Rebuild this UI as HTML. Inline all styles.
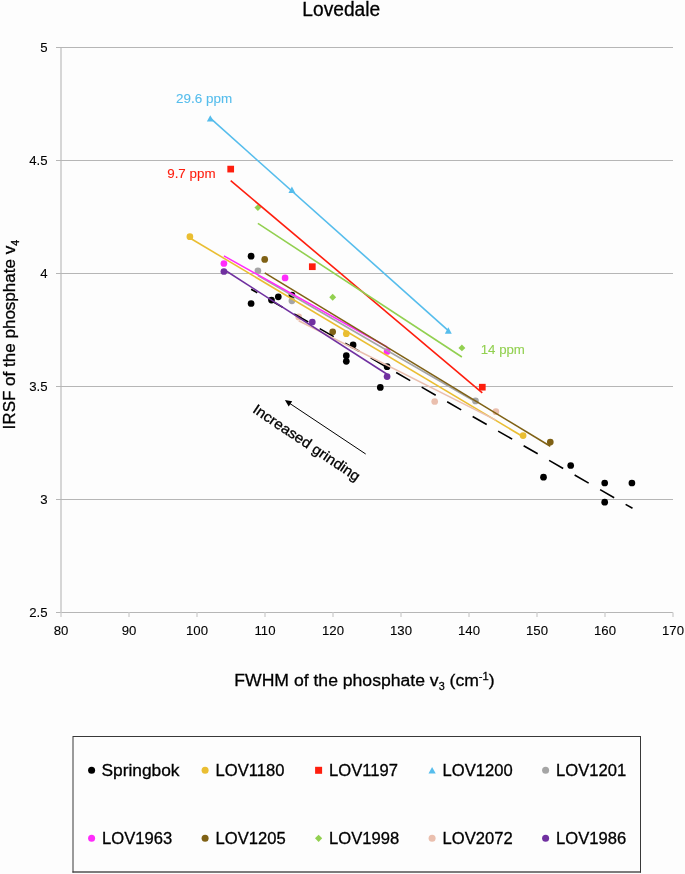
<!DOCTYPE html>
<html><head><meta charset="utf-8"><style>
html,body{margin:0;padding:0;background:#fdfdfd;}
svg{display:block;will-change:transform;}
text{font-family:"Liberation Sans",sans-serif;fill:#000;stroke:#000;stroke-width:0.3px;}
.ttl{font-size:19.4px;}
.tk{font-size:13.2px;stroke-width:0.1px;}
.ax{font-size:17.3px;}
.lg{font-size:16.7px;}
.an{font-size:13px;stroke-width:0.1px;}
.ig{font-size:14.3px;}
</style></head><body>
<svg width="685" height="874" viewBox="0 0 685 874">
<rect width="685" height="874" fill="#fdfdfd"/>
<text transform="translate(302.3 15.7) scale(0.989 1)" class="ttl">Lovedale</text>
<line x1="61" y1="47" x2="61" y2="613" stroke="#d6d6d6" stroke-width="2"/>
<line x1="56" y1="47.5" x2="673" y2="47.5" stroke="#b6b6b6" stroke-width="1"/><line x1="56" y1="160.5" x2="673" y2="160.5" stroke="#b6b6b6" stroke-width="1"/><line x1="56" y1="273.5" x2="673" y2="273.5" stroke="#b6b6b6" stroke-width="1"/><line x1="56" y1="386.5" x2="673" y2="386.5" stroke="#b6b6b6" stroke-width="1"/><line x1="56" y1="499.5" x2="673" y2="499.5" stroke="#b6b6b6" stroke-width="1"/><line x1="56" y1="612.5" x2="673" y2="612.5" stroke="#b6b6b6" stroke-width="1"/>
<line x1="61" y1="612.5" x2="61" y2="617" stroke="#d6d6d6" stroke-width="1.6"/><line x1="129" y1="612.5" x2="129" y2="617" stroke="#d6d6d6" stroke-width="1.6"/><line x1="197" y1="612.5" x2="197" y2="617" stroke="#d6d6d6" stroke-width="1.6"/><line x1="265" y1="612.5" x2="265" y2="617" stroke="#d6d6d6" stroke-width="1.6"/><line x1="333" y1="612.5" x2="333" y2="617" stroke="#d6d6d6" stroke-width="1.6"/><line x1="401" y1="612.5" x2="401" y2="617" stroke="#d6d6d6" stroke-width="1.6"/><line x1="469" y1="612.5" x2="469" y2="617" stroke="#d6d6d6" stroke-width="1.6"/><line x1="537" y1="612.5" x2="537" y2="617" stroke="#d6d6d6" stroke-width="1.6"/><line x1="605" y1="612.5" x2="605" y2="617" stroke="#d6d6d6" stroke-width="1.6"/><line x1="673" y1="612.5" x2="673" y2="617" stroke="#d6d6d6" stroke-width="1.6"/>
<text x="47.5" y="52.2" text-anchor="end" class="tk">5</text><text x="47.5" y="165.2" text-anchor="end" class="tk">4.5</text><text x="47.5" y="278.2" text-anchor="end" class="tk">4</text><text x="47.5" y="391.2" text-anchor="end" class="tk">3.5</text><text x="47.5" y="504.2" text-anchor="end" class="tk">3</text><text x="47.5" y="617.2" text-anchor="end" class="tk">2.5</text>
<text x="61" y="635.3" text-anchor="middle" class="tk">80</text><text x="129" y="635.3" text-anchor="middle" class="tk">90</text><text x="197" y="635.3" text-anchor="middle" class="tk">100</text><text x="265" y="635.3" text-anchor="middle" class="tk">110</text><text x="333" y="635.3" text-anchor="middle" class="tk">120</text><text x="401" y="635.3" text-anchor="middle" class="tk">130</text><text x="469" y="635.3" text-anchor="middle" class="tk">140</text><text x="537" y="635.3" text-anchor="middle" class="tk">150</text><text x="605" y="635.3" text-anchor="middle" class="tk">160</text><text x="673" y="635.3" text-anchor="middle" class="tk">170</text>
<circle cx="251.10" cy="256.20" r="3.35" fill="#000000"/><circle cx="251.10" cy="303.50" r="3.35" fill="#000000"/><circle cx="271.50" cy="300.10" r="3.35" fill="#000000"/><circle cx="278.30" cy="296.80" r="3.35" fill="#000000"/><circle cx="291.90" cy="295.00" r="3.35" fill="#000000"/><circle cx="346.30" cy="355.70" r="3.35" fill="#000000"/><circle cx="346.30" cy="361.30" r="3.35" fill="#000000"/><circle cx="353.10" cy="344.90" r="3.35" fill="#000000"/><circle cx="380.30" cy="387.40" r="3.35" fill="#000000"/><circle cx="387.10" cy="366.70" r="3.35" fill="#000000"/><circle cx="543.50" cy="477.20" r="3.35" fill="#000000"/><circle cx="570.70" cy="465.50" r="3.35" fill="#000000"/><circle cx="604.70" cy="483.00" r="3.35" fill="#000000"/><circle cx="604.70" cy="502.20" r="3.35" fill="#000000"/><circle cx="631.90" cy="483.00" r="3.35" fill="#000000"/><circle cx="189.90" cy="236.70" r="3.35" fill="#eabe32"/><circle cx="346.30" cy="333.70" r="3.35" fill="#eabe32"/><circle cx="523.10" cy="435.60" r="3.35" fill="#eabe32"/><rect x="227.35" y="165.75" width="6.7" height="6.7" fill="#fe1e0e"/><rect x="308.95" y="263.35" width="6.7" height="6.7" fill="#fe1e0e"/><rect x="478.95" y="383.85" width="6.7" height="6.7" fill="#fe1e0e"/><path d="M210.30 115.26L213.75 121.58L206.85 121.58Z" fill="#56bdec"/><path d="M291.90 186.56L295.35 192.88L288.45 192.88Z" fill="#56bdec"/><path d="M448.30 327.36L451.75 333.68L444.85 333.68Z" fill="#56bdec"/><circle cx="257.90" cy="270.80" r="3.35" fill="#a5a5a5"/><circle cx="291.90" cy="300.80" r="3.35" fill="#a5a5a5"/><circle cx="475.50" cy="400.90" r="3.35" fill="#a5a5a5"/><circle cx="223.90" cy="263.50" r="3.35" fill="#ff2cfb"/><circle cx="285.10" cy="277.90" r="3.35" fill="#ff2cfb"/><circle cx="387.10" cy="351.50" r="3.35" fill="#ff2cfb"/><circle cx="264.70" cy="259.40" r="3.35" fill="#7f6115"/><circle cx="332.70" cy="331.80" r="3.35" fill="#7f6115"/><circle cx="550.30" cy="442.10" r="3.35" fill="#7f6115"/><path d="M257.90 204.15L261.35 207.60L257.90 211.05L254.45 207.60Z" fill="#92d050"/><path d="M332.70 293.85L336.15 297.30L332.70 300.75L329.25 297.30Z" fill="#92d050"/><path d="M461.90 344.45L465.35 347.90L461.90 351.35L458.45 347.90Z" fill="#92d050"/><circle cx="298.70" cy="316.90" r="3.35" fill="#eabfae"/><circle cx="434.70" cy="401.50" r="3.35" fill="#eabfae"/><circle cx="495.90" cy="411.70" r="3.35" fill="#eabfae"/><circle cx="223.90" cy="271.50" r="3.35" fill="#7030a0"/><circle cx="312.30" cy="322.00" r="3.35" fill="#7030a0"/><circle cx="387.10" cy="376.60" r="3.35" fill="#7030a0"/>
<line x1="251.10" y1="289.19" x2="632.50" y2="508.28" stroke="#000000" stroke-width="1.6" stroke-dasharray="16.2 13.2" stroke-dashoffset="9.1"/><line x1="189.90" y1="237.99" x2="523.10" y2="436.74" stroke="#eabe32" stroke-width="1.6"/><line x1="230.70" y1="180.72" x2="482.30" y2="392.78" stroke="#fe1e0e" stroke-width="1.6"/><line x1="210.30" y1="118.20" x2="448.30" y2="330.59" stroke="#56bdec" stroke-width="1.6"/><line x1="257.90" y1="275.50" x2="475.50" y2="401.77" stroke="#a5a5a5" stroke-width="1.6"/><line x1="223.90" y1="255.91" x2="387.10" y2="346.94" stroke="#ff2cfb" stroke-width="1.6"/><line x1="264.70" y1="272.85" x2="550.30" y2="446.30" stroke="#7f6115" stroke-width="1.6"/><line x1="257.90" y1="223.38" x2="461.90" y2="357.04" stroke="#92d050" stroke-width="1.6"/><line x1="298.70" y1="320.69" x2="495.90" y2="420.13" stroke="#eabfae" stroke-width="1.6"/><line x1="223.90" y1="269.54" x2="387.10" y2="374.28" stroke="#7030a0" stroke-width="1.6"/>
<text transform="translate(176.1 102.8) scale(1.036 1)" class="an" style="fill:#56bdec;stroke:#56bdec">29.6 ppm</text>
<text transform="translate(167.2 178.4) scale(1.03 1)" class="an" style="fill:#fe1e0e;stroke:#fe1e0e">9.7 ppm</text>
<text transform="translate(480.7 354.2) scale(1.02 1)" class="an" style="fill:#92d050;stroke:#92d050">14 ppm</text>
<line x1="365.7" y1="454" x2="290" y2="403.6" stroke="#000" stroke-width="1"/>
<path d="M284.9 399.9L292.2 401.3L288.7 406.4Z" fill="#000"/>
<text transform="translate(253.4 412.9) rotate(33.8) translate(-2.1 0) scale(1.07 1)" class="ig">Increased grinding</text>
<text transform="translate(14.6 427.7) rotate(-90) translate(-1.7 0) scale(0.985 1)" class="ax">IRSF of the phosphate v<tspan dy="4" font-size="10.6">4</tspan></text>
<text transform="translate(234.3 685.7) scale(1.018 1)" class="ax">FWHM of the phosphate v<tspan dy="4.6" font-size="10.6">3</tspan><tspan dy="-4.6"> (cm</tspan><tspan dy="-5.5" font-size="11">-1</tspan><tspan dy="5.5">)</tspan></text>
<path d="M73 736.5H640.5M73 736V872.6M640.5 736V872.6M72.5 872H641" fill="none" stroke="#383838" stroke-width="1"/><path d="M72.5 872H641" stroke="#383838" stroke-width="0.6"/>
<circle cx="91.60" cy="770.30" r="3.5" fill="#000000"/><text transform="translate(101.42 775.90) scale(1.04 1)" class="lg">Springbok</text><circle cx="205.10" cy="770.30" r="3.5" fill="#eabe32"/><text transform="translate(215.60 775.90) scale(0.995 1)" class="lg">LOV1180</text><rect x="315.10" y="766.80" width="7.0" height="7.0" fill="#fe1e0e"/><text transform="translate(329.10 775.90) scale(0.995 1)" class="lg">LOV1197</text><path d="M432.10 767.00L435.70 773.60L428.50 773.60Z" fill="#56bdec"/><text transform="translate(442.60 775.90) scale(0.995 1)" class="lg">LOV1200</text><circle cx="545.60" cy="770.30" r="3.5" fill="#a5a5a5"/><text transform="translate(556.10 775.90) scale(0.995 1)" class="lg">LOV1201</text><circle cx="91.60" cy="838.30" r="3.5" fill="#ff2cfb"/><text transform="translate(102.10 843.90) scale(0.995 1)" class="lg">LOV1963</text><circle cx="205.10" cy="838.30" r="3.5" fill="#7f6115"/><text transform="translate(215.60 843.90) scale(0.995 1)" class="lg">LOV1205</text><path d="M318.60 834.70L322.20 838.30L318.60 841.90L315.00 838.30Z" fill="#92d050"/><text transform="translate(329.10 843.90) scale(0.995 1)" class="lg">LOV1998</text><circle cx="432.10" cy="838.30" r="3.5" fill="#eabfae"/><text transform="translate(442.60 843.90) scale(0.995 1)" class="lg">LOV2072</text><circle cx="545.60" cy="838.30" r="3.5" fill="#7030a0"/><text transform="translate(556.10 843.90) scale(0.995 1)" class="lg">LOV1986</text>
</svg>
</body></html>
